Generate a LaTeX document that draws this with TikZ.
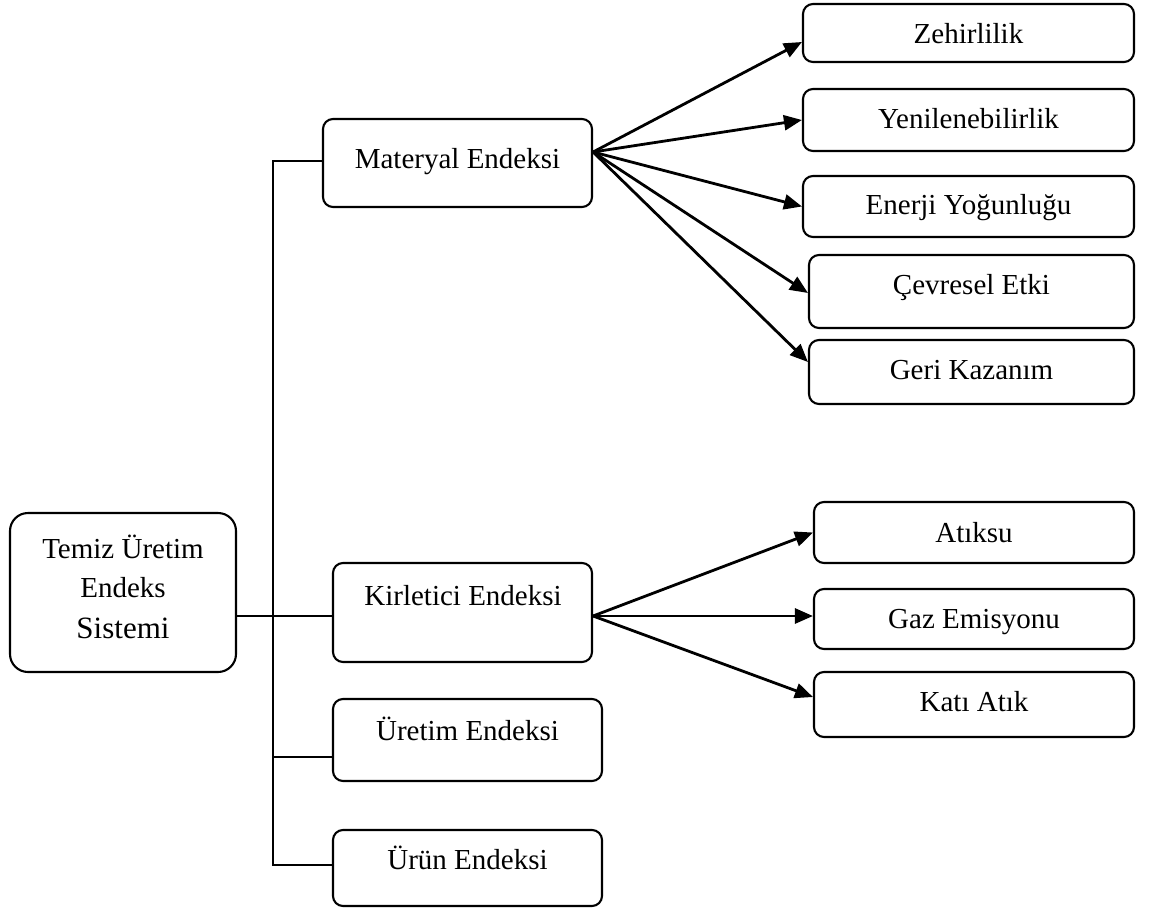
\documentclass[tikz,border=0pt]{standalone}
\usepackage{fontspec}
\setmainfont{Liberation Serif}
\usetikzlibrary{arrows.meta}
\tikzset{
  box/.style={draw, line width=2.1pt, rounded corners=10pt, rectangle, inner sep=0pt},
  lbl/.style={anchor=base, inner sep=0pt, font=\fontsize{29}{34}\selectfont},
  conn/.style={line width=2.1pt},
  arr/.style={line width=2.8pt, -{Triangle[length=18pt,width=15pt]}, shorten <=-1pt}
}
\begin{document}
\begin{tikzpicture}[x=1pt,y=-1pt]
\useasboundingbox (0,0) rectangle (1170,908);
% boxes
\node[box, rounded corners=18pt, minimum width=226pt, minimum height=159pt] (root) at (123,592.5) {};
\node[box, minimum width=269pt, minimum height=88pt] (mat) at (457.5,163) {};
\node[box, minimum width=259pt, minimum height=99pt] (kir) at (462.5,612.5) {};
\node[box, minimum width=269pt, minimum height=82pt] (ure) at (467.5,740) {};
\node[box, minimum width=269pt, minimum height=76pt] (urun) at (467.5,868) {};
\node[box, minimum width=331pt, minimum height=58pt] (zeh) at (968.5,33) {};
\node[box, minimum width=331pt, minimum height=62pt] (yen) at (968.5,120) {};
\node[box, minimum width=331pt, minimum height=61pt] (ene) at (968.5,206.5) {};
\node[box, minimum width=325pt, minimum height=73pt] (cev) at (971.5,291.5) {};
\node[box, minimum width=325pt, minimum height=64pt] (ger) at (971.5,372) {};
\node[box, minimum width=320pt, minimum height=61pt] (atk) at (974,532.5) {};
\node[box, minimum width=320pt, minimum height=60pt] (gaz) at (974,619) {};
\node[box, minimum width=320pt, minimum height=65pt] (kat) at (974,704.5) {};
% texts
\node[lbl] (t1) at (123,558) {Temiz Üretim};
\node[lbl] (t2) at (123,597) {Endeks};
\node[lbl, font=\fontsize{31}{36}\selectfont] (t3) at (123,638) {Sistemi};
\node[lbl] (tmat) at (457.5,168) {Materyal Endeksi};
\node[lbl] (tkir) at (463,605) {Kirletici Endeksi};
\node[lbl] (ture) at (467.5,740) {Üretim Endeksi};
\node[lbl] (turun) at (467.5,869) {Ürün Endeksi};
\node[lbl] (tzeh) at (968.5,43) {Zehirlilik};
\node[lbl] (tyen) at (968.5,128) {Yenilenebilirlik};
\node[lbl] (tene) at (968.5,214) {Enerji Yoğunluğu};
\node[lbl] (tcev) at (971.5,294) {Çevresel Etki};
\node[lbl] (tger) at (971.5,379) {Geri Kazanım};
\node[lbl] (tatk) at (974,542) {Atıksu};
\node[lbl] (tgaz) at (974,628) {Gaz Emisyonu};
\node[lbl] (tkat) at (974,711) {Katı Atık};
% tree connectors
\coordinate (tt) at (273,161);
\coordinate (tu) at (273,757);
\coordinate (tb) at (273,865);
\draw[conn] ([yshift=2pt]mat.west) -- (tt) -- (tb) -- ([yshift=3pt]urun.west);
\draw[conn] (tu) -- ([yshift=-17pt]ure.west);
\draw[conn] ([yshift=-23.5pt]root.east) -- ([yshift=-3.5pt]kir.west);
% arrows from Materyal
\coordinate (ms) at ([yshift=11pt]mat.east);
\draw[arr] (ms) -- ([yshift=-9pt]zeh.west);
\draw[arr] (ms) -- (yen.west);
\draw[arr] (ms) -- (ene.west);
\draw[arr] (ms) -- ([yshift=-1.5pt]cev.west);
\draw[arr] (ms) -- ([yshift=10pt]ger.west);
% arrows from Kirletici
\coordinate (ks) at ([yshift=-3.5pt]kir.east);
\draw[arr] (ks) -- (atk.west);
\draw[arr] (ks) -- ([yshift=3pt]gaz.west);
\draw[arr] (ks) -- ([yshift=7.5pt]kat.west);
\end{tikzpicture}
\end{document}
